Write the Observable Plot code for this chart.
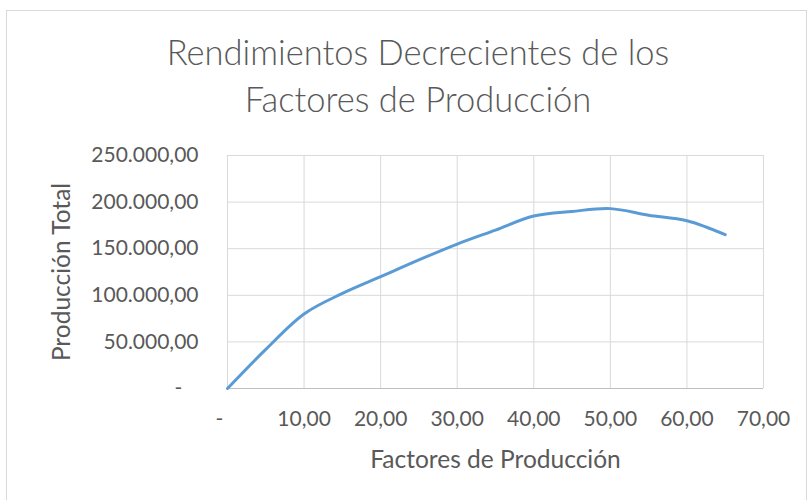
<!DOCTYPE html>
<html>
<head>
<meta charset="utf-8">
<script src="https://cdn.jsdelivr.net/npm/d3@7"></script>
<script src="https://cdn.jsdelivr.net/npm/@observablehq/plot@0.6"></script>
<style>
  html, body { margin: 0; padding: 0; background: #fff; }
  #wrap { position: relative; width: 809px; height: 500px; overflow: hidden; font-family: Lato, "Open Sans", sans-serif; }
  #frame { position: absolute; left: 6px; top: 10px; width: 801px; height: 500px; border: 1px solid #d9d9d9; box-sizing: border-box; }
  #title { position: absolute; left: 0; width: 836px; top: 28px; text-align: center; font-size: 34.5px; font-weight: 300; color: #595959; line-height: 47px; }
  #chart { position: absolute; left: 0; top: 0; }
</style>
</head>
<body>
<div id="wrap">
  <div id="frame"></div>
  <div id="title">Rendimientos Decrecientes de los<br>Factores de Producción</div>
  <div id="chart"></div>
</div>
<script>
const factores = [0, 5, 10, 15, 20, 25, 30, 35, 40, 45, 50, 55, 60, 65];
const produccion = [0, 42000, 80000, 102000, 120000, 138000, 155000, 170000, 185000, 190000, 193000, 186000, 180000, 165000];
const xTicks = [0, 10, 20, 30, 40, 50, 60, 70];
const yTicks = [0, 50000, 100000, 150000, 200000, 250000];
const xLabel = "Factores de Producción";
const yLabel = "Producción Total";

const data = factores.map((f, i) => ({x: f, y: produccion[i]}));
const loc = d3.formatLocale({decimal: ",", thousands: ".", grouping: [3], currency: ["", ""]});
const f2 = loc.format(",.2f");
const zero = "-\u00a0\u00a0\u00a0";
const fmt = v => v === 0 ? zero : f2(v);

const plot = Plot.plot({
  width: 809,
  height: 500,
  marginLeft: 227,
  marginRight: 46,
  marginTop: 155,
  marginBottom: 112,
  style: {fontFamily: "Lato, 'Open Sans', sans-serif", fontSize: "21px", color: "#595959", background: "transparent", overflow: "visible"},
  x: {domain: [0, 70]},
  y: {domain: [0, 250000]},
  marks: [
    Plot.ruleX(xTicks, {x: d => d, stroke: "#d9d9d9", strokeWidth: 1}),
    Plot.ruleY(yTicks, {y: d => d, stroke: "#d9d9d9", strokeWidth: 1}),
    Plot.ruleY([0], {stroke: "#bfbfbf", strokeWidth: 1}),
    Plot.axisX(xTicks, {tickSize: 0, tickPadding: 23, tickFormat: fmt, fill: "#595959", label: null}),
    Plot.axisY(yTicks, {tickSize: 0, tickPadding: 29, tickFormat: fmt, fill: "#595959", label: null}),
    Plot.text([xLabel], {frameAnchor: "bottom", dy: 79, text: d => d, fontSize: 24.5, fill: "#595959", textAnchor: "middle"}),
    Plot.text([yLabel], {frameAnchor: "left", dx: -165, rotate: -90, text: d => d, fontSize: 24.5, fill: "#595959", textAnchor: "middle"}),
    Plot.line(data, {x: "x", y: "y", stroke: "#5b9bd5", strokeWidth: 3, curve: "catmull-rom"})
  ]
});
document.getElementById("chart").append(plot);
</script>
</body>
</html>
